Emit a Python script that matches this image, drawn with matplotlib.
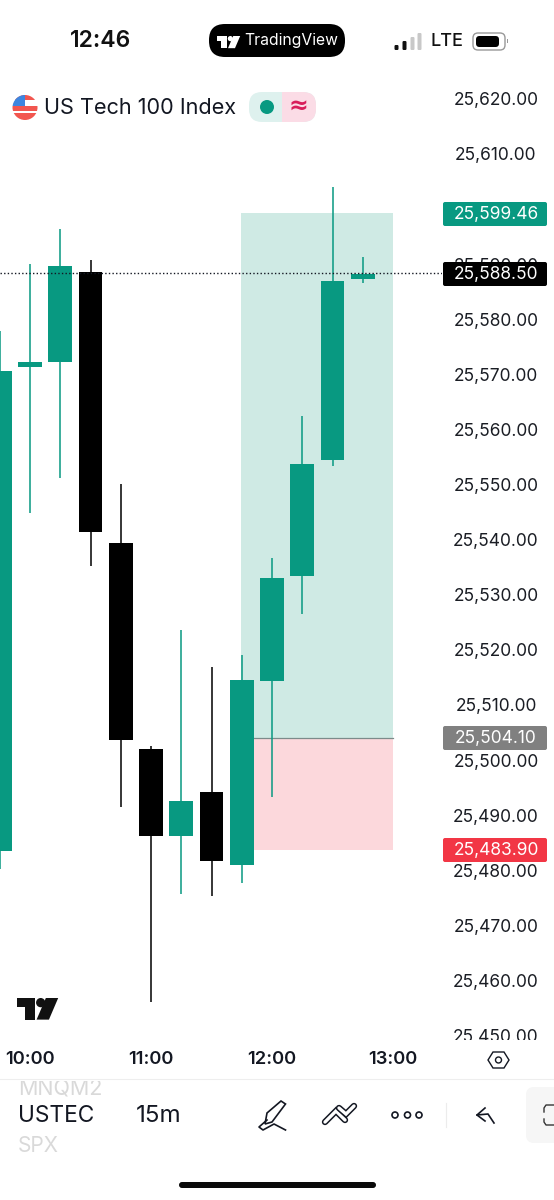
import matplotlib
matplotlib.use("Agg")
import matplotlib.pyplot as plt
from matplotlib.patches import Rectangle, FancyBboxPatch, Circle, Polygon

plt.rcParams['font.family'] = ['Inter', 'DejaVu Sans']

times  = [9.75, 10.0, 10.25, 10.5, 10.75, 11.0, 11.25, 11.5, 11.75, 12.0, 12.25, 12.5, 12.75]
opens  = [25483.7, 25571.5, 25572.4, 25588.7, 25539.6, 25502.2, 25486.4, 25494.4, 25481.1, 25514.5, 25533.6, 25554.6, 25587.5]
closes = [25570.8, 25572.4, 25589.8, 25541.6, 25503.8, 25486.4, 25492.7, 25481.9, 25514.7, 25533.2, 25553.9, 25587.1, 25588.4]
highs  = [25578.0, 25590.2, 25596.6, 25590.9, 25550.3, 25502.7, 25523.8, 25517.1, 25519.2, 25536.8, 25562.6, 25604.2, 25591.5]
lows   = [25480.4, 25545.0, 25551.4, 25535.4, 25491.7, 25456.3, 25475.9, 25475.5, 25477.9, 25493.5, 25526.7, 25553.5, 25586.8]

price_ticks = [25620, 25610, 25590, 25580, 25570, 25560, 25550, 25540, 25530,
               25520, 25510, 25500, 25490, 25480, 25470, 25460, 25450]
hour_ticks = [10, 11, 12, 13]
hour_labels = ['10:00', '11:00', '12:00', '13:00']
target = 25599.46
entry = 25504.10
stop = 25483.90
last = 25588.50
pos_start, pos_end = 11.74, 13.0

GREEN = '#089981'
INK = '#131722'
W, H = 554, 1200
fig = plt.figure(figsize=(W/100, H/100), dpi=100, facecolor='white')

# pixel overlay for the app chrome
ov = fig.add_axes([0, 0, 1, 1], zorder=3)
ov.set_xlim(0, W); ov.set_ylim(H, 0); ov.axis('off'); ov.patch.set_alpha(0)

PX_PER_UNIT = 5.51
def y2p(y): return 25500 + (761 - y) / PX_PER_UNIT
def x2h(x): return 10 + (x - 30) / 121
top, bot, right = 70, 1040, 442
ax = fig.add_axes([0, 1 - bot/H, right/W, (bot-top)/H], zorder=1)
ax.set_xlim(x2h(0), x2h(right)); ax.set_ylim(y2p(bot), y2p(top)); ax.axis('off')

# position tool
ax.add_patch(Rectangle((pos_start, entry), pos_end-pos_start, target-entry, fc='#cfeae4', ec='none', zorder=1))
ax.add_patch(Rectangle((pos_start, stop), pos_end-pos_start, entry-stop, fc='#fcd8dc', ec='none', zorder=1))
ax.plot([pos_start, pos_end], [entry, entry], color='#7c8b8a', lw=0.9, zorder=1.5)

# candles
for t, o, c, h, l in zip(times, opens, closes, highs, lows):
    col = GREEN if c >= o else 'black'
    ax.vlines(t, l, h, color=col, lw=1.1, zorder=2)
    ax.bar(t, abs(c-o), bottom=min(o, c), width=0.195, color=col, zorder=2.5, linewidth=0)

# last price line
ax.axhline(last, color=INK, lw=1.0, ls=(0, (1, 1.6)), zorder=3)

# price axis
for p in price_ticks:
    y = 762 - (p-25500)*PX_PER_UNIT
    t = ov.text(496, y, f'{p:,.2f}', ha='center', va='center', fontsize=12.5, color='#1a1d24', clip_on=True)
    t.set_clip_path(Rectangle((430, 60), 124, 980, transform=ov.transData))

def tag(p, y, fc):
    ov.add_patch(FancyBboxPatch((443, y-12), 104, 24, boxstyle='round,pad=0,rounding_size=2', fc=fc, ec='none', zorder=5))
    ov.text(496, y+0.5, f'{p:,.2f}', ha='center', va='center', fontsize=12.5, color='white', zorder=6)
tag(target, 214, GREEN)
tag(last, 274, 'black')
tag(entry, 738, '#808080')
tag(stop, 850, '#f23645')

# time axis
for h, lab in zip(hour_ticks, hour_labels):
    ov.text(30 + (h-10)*121, 1060, lab, ha='center', va='center', fontsize=13.2, color=INK, fontweight='semibold')
ov.add_patch(Polygon([(488,1060),(493,1052),(504,1052),(509,1060),(504,1068),(493,1068)], fc='none', ec=INK, lw=1))
ov.add_patch(Circle((498.5,1060), 3.0, fc='none', ec=INK, lw=1))
ov.plot([0, W], [1079, 1079], color='#eeeeee', lw=0.8)

# status bar
def logo(x, y, s, col):
    ov.add_patch(Polygon([(x,y),(x+17*s,y),(x+17*s,y+21*s),(x+7.5*s,y+21*s),(x+7.5*s,y+9*s),(x,y+9*s)], fc=col, ec='none'))
    ov.add_patch(Circle((x+23*s,y+4.5*s), 4.5*s, fc=col, ec='none'))
    ov.add_patch(Polygon([(x+28*s,y),(x+40*s,y),(x+31*s,y+21*s),(x+19*s,y+21*s)], fc=col, ec='none'))

ov.text(101, 41, '12:46', ha='center', va='center', fontsize=16.5, fontweight='semibold', color='#111111')
ov.add_patch(FancyBboxPatch((209, 24), 136, 33, boxstyle='round,pad=0,rounding_size=16', fc='black', ec='none'))
logo(217, 36, 0.58, 'white')
ov.text(291, 41, 'TradingView', ha='center', va='center', fontsize=11.3, color='white')
for x, y0, hh, c in [(394.5,45,5,'#111111'),(402.5,41,9,'#111111'),(410.5,37,13,'#c8c8c8'),(417.5,33,17,'#c8c8c8')]:
    ov.add_patch(FancyBboxPatch((x, y0), 4, hh, boxstyle='round,pad=0,rounding_size=1.2', fc=c, ec='none'))
ov.text(447, 42, 'LTE', ha='center', va='center', fontsize=13, fontweight='medium', color='#111111')
ov.add_patch(FancyBboxPatch((473, 33), 32, 17, boxstyle='round,pad=0,rounding_size=5', fc='none', ec='#999999', lw=1))
ov.add_patch(FancyBboxPatch((476, 36), 23, 11, boxstyle='round,pad=0,rounding_size=3.5', fc='black', ec='none'))
ov.add_patch(Rectangle((506.5, 39), 1, 4, fc='#999999', ec='none'))

# title row
clip = Circle((25, 107.5), 12.5, transform=ov.transData)
for x0, y0, w0, h0, col in [(12,95,26,26,'white'),(12,95,26,5,'#f2564f'),(12,106,26,4.5,'#f2564f'),(12,113,26,8,'#f2564f'),(12,95,13,11,'#3d86e0')]:
    r = Rectangle((x0, y0), w0, h0, fc=col, ec='none')
    ov.add_patch(r); r.set_clip_path(clip)
ov.text(140.5, 108, 'US Tech 100 Index', ha='center', va='center', fontsize=15.6, color=INK)
ov.add_patch(FancyBboxPatch((249, 92), 67, 30, boxstyle='round,pad=0,rounding_size=13', fc='#def1ee', ec='none'))
pink = FancyBboxPatch((249, 92), 67, 30, boxstyle='round,pad=0,rounding_size=13', fc='#fbdce6', ec='none')
ov.add_patch(pink)
pink.set_clip_path(Rectangle((282, 90), 40, 34, transform=ov.transData))
ov.add_patch(Circle((267, 107), 7, fc=GREEN, ec='none'))
ov.text(298, 106, '≈', ha='center', va='center', fontsize=17, color='#d81e5b', fontweight='bold', family='DejaVu Sans')

# TV watermark
logo(17, 998, 1.03, '#111111')

# bottom toolbar
ov.text(56, 1116, 'USTEC', ha='center', va='center', fontsize=16.3, color=INK)
ov.text(159, 1116, '15m', ha='center', va='center', fontsize=17.4, color=INK)
t = ov.text(18, 1088, 'MNQM2', ha='left', va='center', fontsize=15.5, color='#d9d9d9', clip_on=True)
t.set_clip_path(Rectangle((0, 1081), 106, 40, transform=ov.transData))
ov.text(18, 1146, 'SPX', ha='left', va='center', fontsize=15, color='#d9d9d9')

# pen
ov.add_patch(Polygon([(267,1113),(281,1101),(285.5,1104),(272,1122),(265,1124)], fc='none', ec=INK, lw=1.2))
ov.plot([267,259,263,274,285.5],[1120,1127,1130,1124,1130], color=INK, lw=1.2)
# double chevrons
for xs, ys in [([325,336,345],[1122,1111,1120]), ([339,346,354],[1108,1114,1106])]:
    ov.plot(xs, ys, color=INK, lw=4.6, solid_capstyle='round', solid_joinstyle='miter')
    ov.plot(xs, ys, color='white', lw=2.4, solid_capstyle='round', solid_joinstyle='miter')
# dots
for x in [395, 407.5, 419]:
    ov.add_patch(Circle((x, 1115), 3.0, fc='none', ec=INK, lw=1.2))
ov.plot([446, 446], [1103, 1127], color='#ececec', lw=0.8)
# undo arrow
ov.plot([485,477,485], [1108,1115,1121], color=INK, lw=1.2)
ov.plot([477,488,494], [1115,1114,1123], color=INK, lw=1.2)
# right-hand button
ov.add_patch(FancyBboxPatch((526,1087),50,56,boxstyle='round,pad=0,rounding_size=8',fc='#f6f6f6',ec='none'))
ov.plot([554,546,544,544],[1105,1105,1108,1112],color='#333333',lw=1.0)
ov.plot([554,546,544,544],[1125,1125,1122,1119],color='#333333',lw=1.0)
ov.add_patch(FancyBboxPatch((179,1182),197,6,boxstyle='round,pad=0,rounding_size=3',fc='#0a0a0a',ec='none'))

fig.savefig('out.png', dpi=100)
